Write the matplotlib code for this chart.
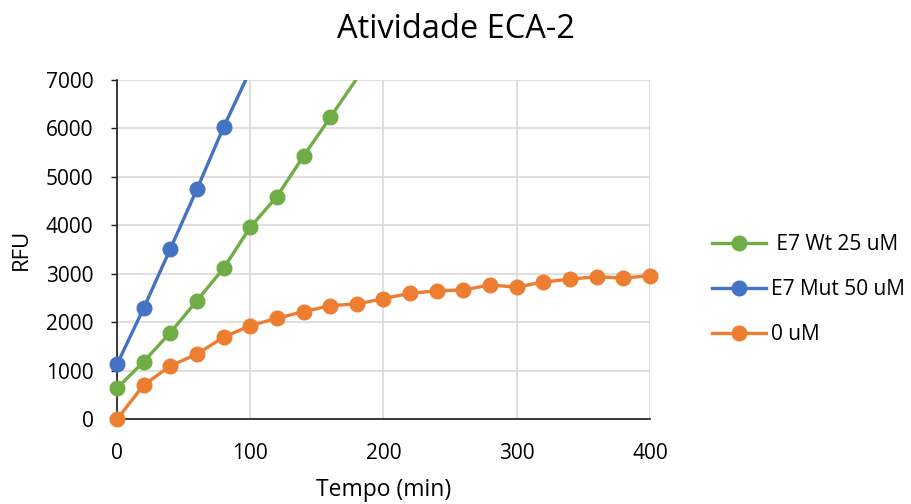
import matplotlib
matplotlib.use("Agg")
import matplotlib.pyplot as plt

plt.rcParams['font.family'] = ['Open Sans', 'DejaVu Sans']

tempo = [0, 20, 40, 60, 80, 100, 120, 140, 160, 180, 200,
         220, 240, 260, 280, 300, 320, 340, 360, 380, 400]

# series values (RFU); later points run past the top of the axis
wt_25 = [640, 1189, 1788, 2448, 3117, 3964, 4596, 5430, 6227, 7030]
mut_50 = [1135, 2291, 3516, 4748, 6028, 7200]
zero = [0, 708, 1100, 1348, 1693, 1933, 2085, 2221, 2345, 2380, 2490,
        2601, 2649, 2669, 2772, 2725, 2834, 2890, 2944, 2911, 2965]

labels = [" E7 Wt 25 uM", "E7 Mut 50 uM", "0 uM"]
colors = ["#70AD47", "#4472C4", "#ED7D31"]
YMAX = 7000

fig = plt.figure(figsize=(9.12, 5.04), dpi=100)
ax = fig.add_axes([0.1283, 0.168, 0.5844, 0.6733])

for ys, lab, c in zip([wt_25, mut_50, zero], labels, colors):
    xs = tempo[:len(ys)]
    # line is clipped at the axis; markers only for points inside the range
    ax.plot(xs, ys, color=c, lw=2.4, solid_capstyle='round', zorder=3)
    px = [x for x, y in zip(xs, ys) if y <= YMAX]
    py = [y for y in ys if y <= YMAX]
    ax.plot(px, py, ls='none', marker='o', ms=10.5, color=c,
            clip_on=False, zorder=4)
    # legend proxy
    ax.plot([], [], color=c, lw=2.4, marker='o', ms=10.5, label=lab)

ax.set_xlim(0, 400)
ax.set_ylim(0, YMAX)
ax.set_xticks([0, 100, 200, 300, 400])
ax.set_yticks(range(0, 7001, 1000))
ax.grid(True, color='#D9D9D9', lw=1.2)
ax.set_axisbelow(True)
for s in ['top', 'right']:
    ax.spines[s].set_visible(False)
for s in ['left', 'bottom']:
    ax.spines[s].set_color('#1a1a1a')
    ax.spines[s].set_linewidth(1.2)
    ax.spines[s].set_zorder(2)
ax.tick_params(axis='x', length=0, pad=17, labelsize=15, labelcolor='#000000')
ax.tick_params(axis='y', length=4, width=1, color='#1a1a1a', pad=13,
               labelsize=15, labelcolor='#000000')

ax.set_xlabel("Tempo (min)", fontsize=16.5, labelpad=10)
ax.set_ylabel("RFU", fontsize=16, labelpad=10)
fig.suptitle("Atividade ECA-2", fontsize=23.5, y=0.975)

handles, labs = ax.get_legend_handles_labels()
leg = fig.legend(handles, labs, loc='center left',
                 bbox_to_anchor=(711.7 / 912, 1 - 289.5 / 504), frameon=False,
                 fontsize=15, handlelength=2.6, handletextpad=0.25,
                 labelspacing=1.15, borderpad=0, borderaxespad=0)

fig.savefig("out.png", dpi=100)
